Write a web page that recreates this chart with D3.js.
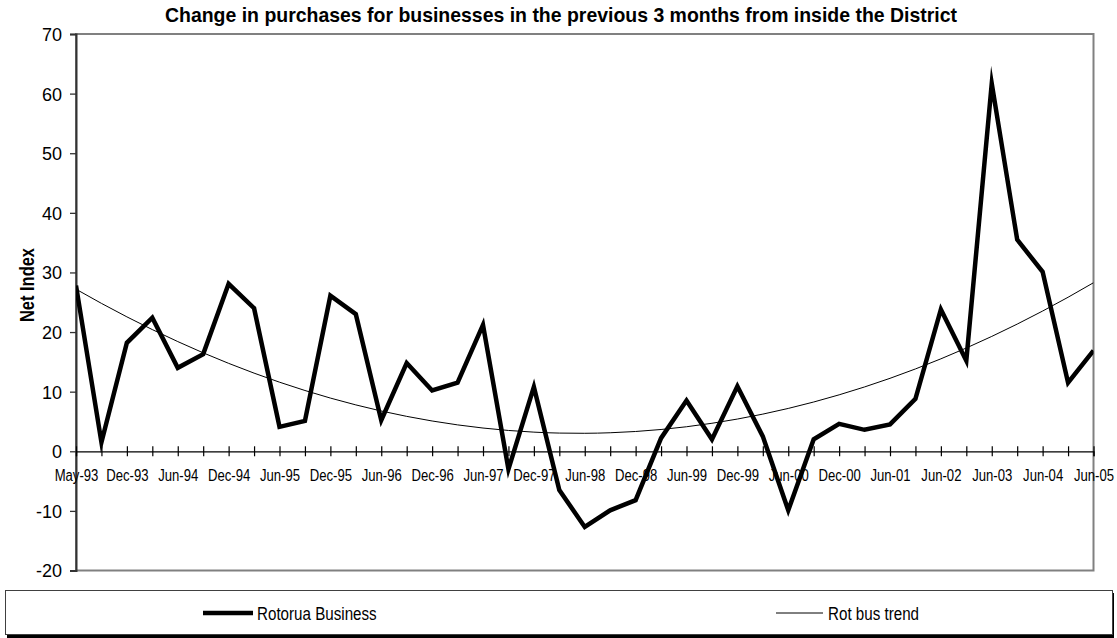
<!DOCTYPE html>
<html>
<head>
<meta charset="utf-8">
<script src="https://cdn.jsdelivr.net/npm/d3@7"></script>
<style>
  html, body { margin: 0; padding: 0; background: #fff; }
  svg { display: block; }
</style>
</head>
<body>
<svg id="chart" width="1117" height="638"></svg>
<script>
// ---------------- DATA ----------------
const title = "Change in purchases for businesses in the previous 3 months from inside the District";
const yAxisTitle = "Net Index";
const categories = [
  "May-93","Sep-93","Dec-93","Mar-94","Jun-94","Sep-94","Dec-94","Mar-95","Jun-95","Sep-95",
  "Dec-95","Mar-96","Jun-96","Sep-96","Dec-96","Mar-97","Jun-97","Sep-97","Dec-97","Mar-98",
  "Jun-98","Sep-98","Dec-98","Mar-99","Jun-99","Sep-99","Dec-99","Mar-00","Jun-00","Sep-00",
  "Dec-00","Mar-01","Jun-01","Dec-01","Jun-02","Dec-02","Jun-03","Dec-03","Jun-04","Dec-04","Jun-05"
];
const tickLabels = [
  "May-93","Dec-93","Jun-94","Dec-94","Jun-95","Dec-95","Jun-96","Dec-96","Jun-97","Dec-97",
  "Jun-98","Dec-98","Jun-99","Dec-99","Jun-00","Dec-00","Jun-01","Jun-02","Jun-03","Jun-04","Jun-05"
];
const rotoruaBusiness = [
  27.8, 1.5, 18.2, 22.4, 14.0, 16.3, 28.1, 24.0, 4.1, 5.1,
  26.1, 23.0, 5.2, 14.8, 10.2, 11.5, 21.2, -3.0, 10.8, -6.5,
  -12.7, -9.9, -8.2, 2.2, 8.5, 2.0, 10.9, 2.5, -9.9, 2.0,
  4.6, 3.6, 4.5, 8.8, 23.8, 15.2, 61.7, 35.5, 30.1, 11.5, 16.9
];
const yTicks = [-20, -10, 0, 10, 20, 30, 40, 50, 60, 70];
const seriesNames = ["Rotorua Business", "Rot bus trend"];

// ---------------- TREND (2nd order polynomial least squares, as the spreadsheet does) ----------------
function polyFit2(ys) {
  let s = [0,0,0,0,0], t = [0,0,0];
  ys.forEach((v, i) => {
    const xx = i + 1;
    for (let k = 0; k < 5; k++) s[k] += Math.pow(xx, k);
    for (let k = 0; k < 3; k++) t[k] += v * Math.pow(xx, k);
  });
  const M = [[s[0], s[1], s[2], t[0]], [s[1], s[2], s[3], t[1]], [s[2], s[3], s[4], t[2]]];
  for (let c = 0; c < 3; c++) {
    for (let r = c + 1; r < 3; r++) {
      const f = M[r][c] / M[c][c];
      for (let k = c; k < 4; k++) M[r][k] -= f * M[c][k];
    }
  }
  const b = [0,0,0];
  for (let r = 2; r >= 0; r--) {
    let v = M[r][3];
    for (let k = r + 1; k < 3; k++) v -= M[r][k] * b[k];
    b[r] = v / M[r][r];
  }
  return xx => b[0] + b[1] * xx + b[2] * xx * xx;
}
const trendFn = polyFit2(rotoruaBusiness);

// ---------------- FONT HELPERS ----------------
function fontAvailable(name) {
  const c = document.createElement("canvas").getContext("2d");
  const s = "Dec-93 Rotorua Business abcdefghij";
  c.font = "16px monospace";
  const w1 = c.measureText(s).width;
  c.font = `16px "${name}", monospace`;
  const w2 = c.measureText(s).width;
  return Math.abs(w1 - w2) > 0.5;
}
const hasNarrow = fontAvailable("Liberation Sans Narrow");
const NARROW_FAMILY = hasNarrow ? '"Liberation Sans Narrow", "Arial Narrow", sans-serif' : '"Liberation Sans", Arial, sans-serif';
const NARROW_SCALE = hasNarrow ? "" : " scale(0.82,1)";
const REG_FAMILY = '"Liberation Sans", Arial, sans-serif';

// ---------------- LAYOUT ----------------
const svg = d3.select("#chart");
const plot = { left: 76, right: 1093.5, top: 34, bottom: 570.5 };

const x = d3.scalePoint().domain(categories).range([plot.left, plot.right]);
const y = d3.scaleLinear().domain([-20, 70]).range([plot.bottom, plot.top]);

svg.append("defs").append("clipPath").attr("id", "plotclip")
  .append("rect").attr("x", plot.left).attr("y", plot.top - 2)
  .attr("width", plot.right - plot.left).attr("height", plot.bottom - plot.top + 4);

// plot border (gray)
svg.append("rect")
  .attr("x", plot.left).attr("y", plot.top)
  .attr("width", plot.right - plot.left).attr("height", plot.bottom - plot.top)
  .attr("fill", "none").attr("stroke", "#808080").attr("stroke-width", 2);

// Title (condensed bold, fitted to the reference width)
svg.append("text")
  .attr("x", 561).attr("y", 22)
  .attr("text-anchor", "middle")
  .attr("textLength", 792).attr("lengthAdjust", "spacingAndGlyphs")
  .style("font-family", REG_FAMILY)
  .style("font-weight", "bold")
  .style("font-size", "21px")
  .attr("fill", "#000")
  .text(title);

// Y axis
const yAxis = d3.axisLeft(y).tickValues(yTicks).tickSize(6).tickPadding(8).tickFormat(d => String(d));
const yG = svg.append("g").attr("transform", `translate(${plot.left},0)`).call(yAxis);
yG.select(".domain").attr("stroke", "#333").attr("stroke-width", 2);
yG.selectAll(".tick line").attr("stroke", "#333").attr("stroke-width", 1.3);
yG.selectAll(".tick text")
  .style("font-family", REG_FAMILY).style("font-size", "18px")
  .attr("fill", "#000").attr("dy", "0.36em");

// Y axis title
svg.append("text")
  .attr("transform", "translate(33.5,285) rotate(-90)")
  .attr("text-anchor", "middle")
  .attr("textLength", 74).attr("lengthAdjust", "spacingAndGlyphs")
  .style("font-family", REG_FAMILY)
  .style("font-weight", "bold")
  .style("font-size", "21px")
  .attr("fill", "#000")
  .text(yAxisTitle);

// X axis (at zero)
const xAxis = d3.axisBottom(x).tickValues(categories).tickSize(5)
  .tickFormat(d => tickLabels.includes(d) ? d : "");
const xG = svg.append("g").attr("transform", `translate(0,${y(0)})`).call(xAxis);
xG.select(".domain").attr("stroke", "#000").attr("stroke-width", 1.2);
xG.selectAll(".tick line").attr("y1", -5).attr("y2", 5).attr("stroke", "#000").attr("stroke-width", 1.2);
xG.selectAll(".tick text")
  .attr("y", 0).attr("dy", 0)
  .attr("transform", `translate(0,30)${NARROW_SCALE}`)
  .style("font-family", NARROW_FAMILY).style("font-size", "16px")
  .attr("fill", "#000");

// Trend line
const trendValues = categories.map((c, i) => trendFn(i + 1));
svg.append("path")
  .datum(trendValues)
  .attr("clip-path", "url(#plotclip)")
  .attr("d", d3.line().curve(d3.curveMonotoneX).x((d, i) => x(categories[i])).y(d => y(d)))
  .attr("fill", "none").attr("stroke", "#000").attr("stroke-width", 1);

// Main series
svg.append("path")
  .datum(rotoruaBusiness)
  .attr("clip-path", "url(#plotclip)")
  .attr("d", d3.line().x((d, i) => x(categories[i])).y(d => y(d)))
  .attr("fill", "none").attr("stroke", "#000").attr("stroke-width", 4.5)
  .attr("stroke-linejoin", "miter").attr("stroke-miterlimit", 10);

// Legend
const lg = svg.append("g");
lg.append("rect").attr("x", 7).attr("y", 593).attr("width", 1107).attr("height", 45).attr("fill", "#000");
lg.append("rect").attr("x", 5.5).attr("y", 590.5).attr("width", 1107).attr("height", 44)
  .attr("fill", "#fff").attr("stroke", "#404040").attr("stroke-width", 1);

const legendItems = [
  { name: seriesNames[0], x1: 203, x2: 253, tx: 257, w: 4.5 },
  { name: seriesNames[1], x1: 776, x2: 823, tx: 828, w: 1 }
];
legendItems.forEach(it => {
  lg.append("line").attr("x1", it.x1).attr("x2", it.x2).attr("y1", 613).attr("y2", 613)
    .attr("stroke", "#000").attr("stroke-width", it.w);
  lg.append("text")
    .attr("transform", `translate(${it.tx},620)${NARROW_SCALE}`)
    .style("font-family", NARROW_FAMILY).style("font-size", "18.5px")
    .attr("fill", "#000").text(it.name);
});
</script>
</body>
</html>
